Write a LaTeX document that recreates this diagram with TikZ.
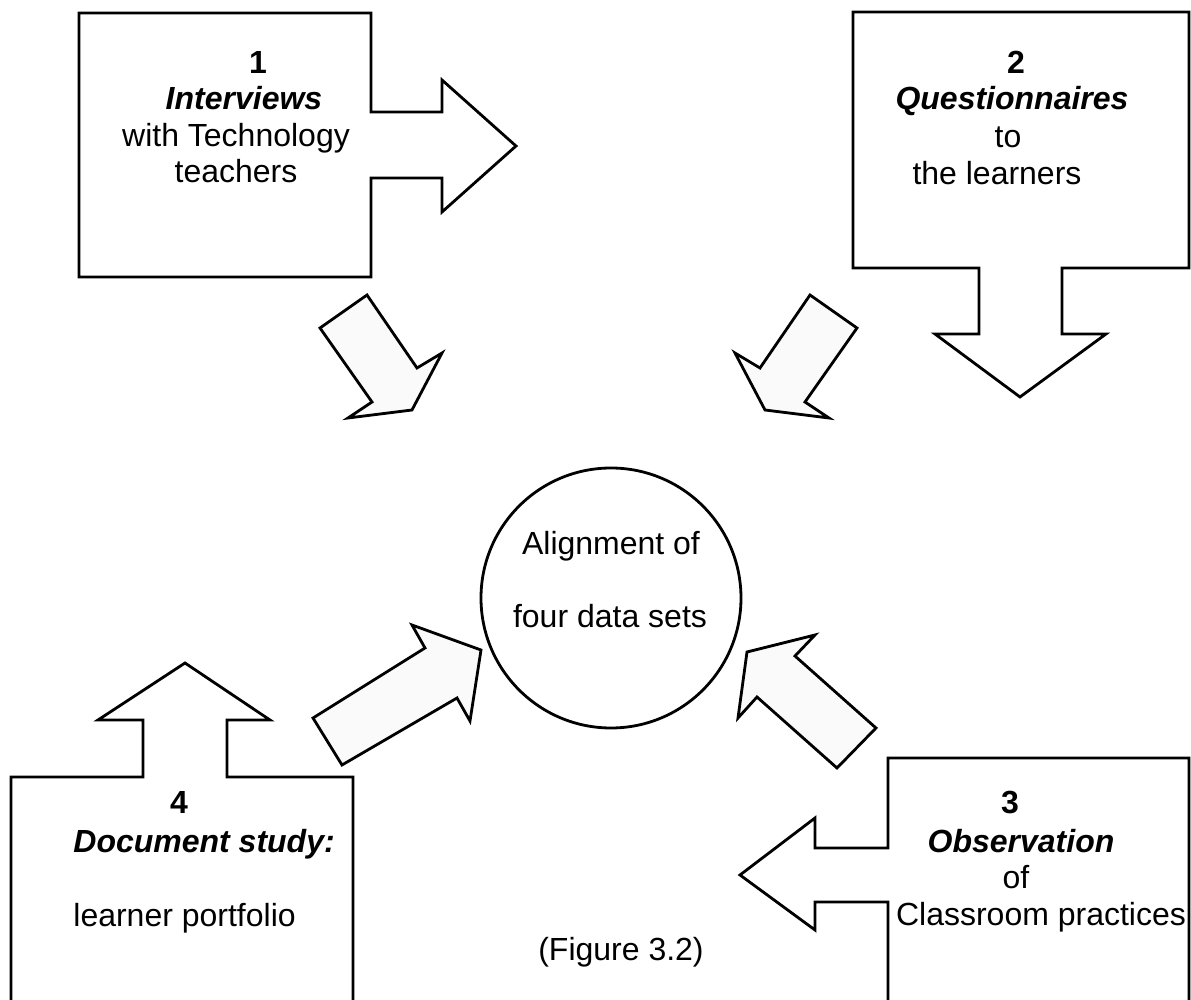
\documentclass[tikz,border=0pt]{standalone}
\usepackage{fontspec}
\setmainfont{Liberation Sans}
\usetikzlibrary{shapes.geometric}

\begin{document}
\begin{tikzpicture}[x=0.5pt,y=-0.5pt,
  outline/.style={draw=black,line width=1.4pt,line join=miter},
  flow/.style={outline,fill=black!2},
  txt/.style={anchor=base,inner sep=0pt,font=\fontsize{16}{18}\selectfont},
  num/.style={txt,font=\fontsize{16}{18}\selectfont\bfseries},
  ttl/.style={txt,font=\fontsize{16}{18}\selectfont\bfseries\itshape}]
\useasboundingbox (0,0) rectangle (1191,1000);
\draw[outline] (79,13) -- (371,13) -- (371,112) -- (442,112) -- (442,80) -- (516,146) -- (442,212) -- (442,178) -- (371,178) -- (371,277) -- (79,277) -- cycle;
\draw[outline] (853,12) -- (1189,12) -- (1189,268) -- (1062,268) -- (1062,334) -- (1106,334) -- (1020,397) -- (935,334) -- (979,334) -- (979,268) -- (853,268) -- cycle;
\draw[outline] (888,1000) -- (888,902) -- (815,902) -- (815,930) -- (740,875) -- (815,818) -- (815,848) -- (888,848) -- (888,758) -- (1189,758) -- (1189,1000);
\draw[outline] (11,1000) -- (11,777) -- (143,777) -- (143,720) -- (98,720) -- (185,663) -- (270,720) -- (227,720) -- (227,777) -- (353,777) -- (353,1000);
\draw[flow] (320,328) -- (367,295) -- (417,368) -- (442,353) -- (412,410) -- (348,418) -- (372,402) -- cycle;
\draw[flow] (857,328) -- (810,295) -- (760,368) -- (735,353) -- (765,410) -- (829,418) -- (805,402) -- cycle;
\draw[flow] (313,718) -- (425,648) -- (412,625) -- (481,650) -- (470,721) -- (457,698) -- (342,765) -- cycle;
\draw[flow] (876,728) -- (795,656) -- (815,635) -- (747,652) -- (738,718) -- (757,697) -- (837,768) -- cycle;
\node[outline,circle,minimum size=130pt,inner sep=0pt] (hub) at (611,598) {};
\node[num] (n1) at (258,74) {1};
\node[ttl] (h1) at (244,110) {Interviews};
\node[txt] (s1a) at (236,147) {with Technology};
\node[txt] (s1b) at (236,183) {teachers};
\node[num] (n2) at (1016,74) {2};
\node[ttl] (h2) at (1012,110) {Questionnaires};
\node[txt] (s2a) at (1008,148) {to};
\node[txt] (s2b) at (997,185) {the learners};
\node[num] (n3) at (1010,813) {3};
\node[ttl] (h3) at (1021,852) {Observation};
\node[txt] (s3a) at (1016,888) {of};
\node[txt] (s3b) at (1041,925) {Classroom practices};
\node[num] (n4) at (179,813) {4};
\node[ttl,anchor=base west] (h4) at (73,852) {Document study:};
\node[txt,anchor=base west] (s4) at (73,927) {learner portfolio};
\node[txt] (c1) at (611,555) {Alignment of};
\node[txt] (c2) at (610,628) {four data sets};
\node[txt] (cap) at (621,960) {(Figure 3.2)};
\end{tikzpicture}
\end{document}
